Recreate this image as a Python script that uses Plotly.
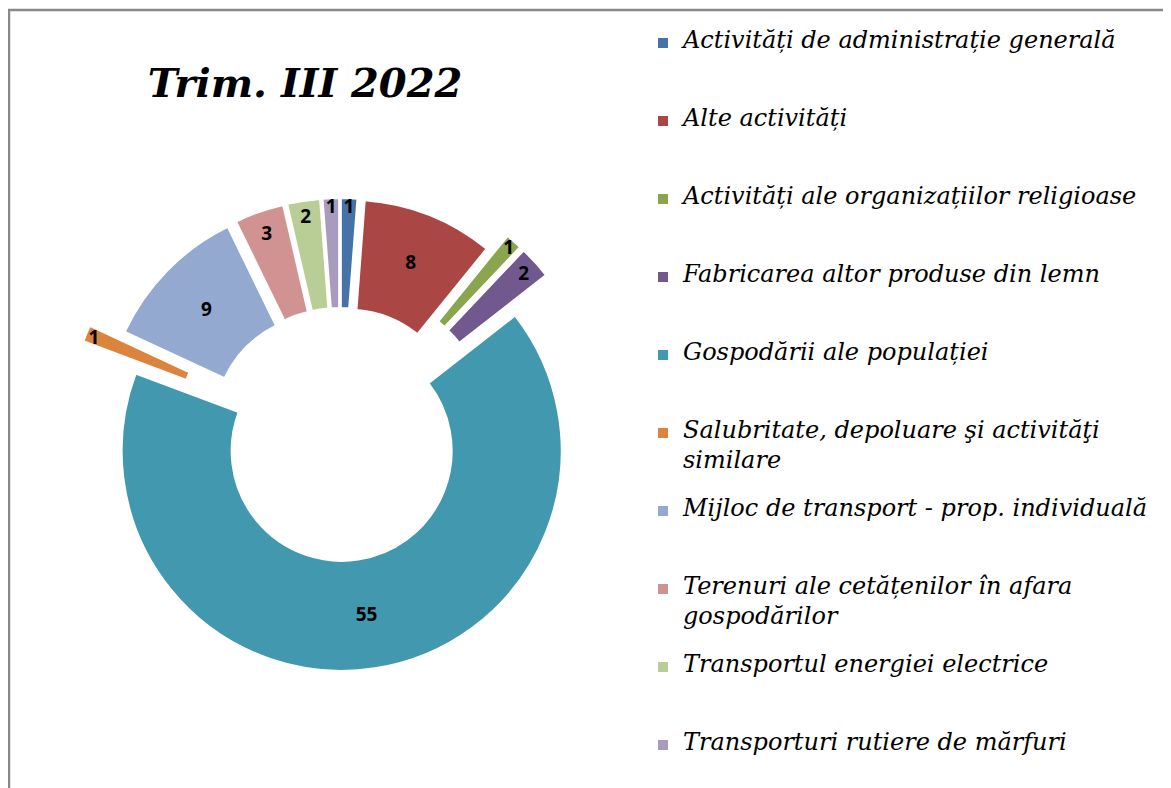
import plotly.graph_objects as go

# data
categories = [
    "Activități de administrație generală",
    "Alte activități",
    "Activități ale organizațiilor religioase",
    "Fabricarea altor produse din lemn",
    "Gospodării ale populației",
    "Salubritate, depoluare şi activităţi<br>similare",
    "Mijloc de transport - prop. individuală",
    "Terenuri ale cetățenilor în afara<br>gospodărilor",
    "Transportul energiei electrice",
    "Transporturi rutiere de mărfuri",
]
values = [1, 8, 1, 2, 55, 1, 9, 3, 2, 1]
colors = [
    "#4572A7", "#AA4643", "#89A54E", "#71588F", "#4198AF",
    "#DB843D", "#93A9CF", "#D19392", "#B9CD96", "#A99BBD",
]
pulls = [0.1, 0.1, 0.2, 0.2, 0.05, 0.25, 0.1, 0.1, 0.1, 0.1]

W, H = 1171, 788

# pie geometry (figure pixels): centre and radius of the ring
cx, cy, r = 332, 432, 220
half = r * (1 + max(pulls))

# legend rows: a small base font gives a fine line grid; every entry takes
# five grid lines, wrapped text skips one grid line between its two lines
legend_labels = []
for i, c in enumerate(categories):
    parts = ['<span style="font-size:24px">%s</span>' % p for p in c.split("<br>")]
    rows = "<br> <br>".join(parts)
    used = 2 * len(parts) - 1
    if i < len(categories) - 1:
        rows += "<br> " * (5 - used)
    legend_labels.append(rows)

fig = go.Figure()
fig.add_trace(go.Pie(
    labels=legend_labels,
    values=values,
    hole=0.5,
    pull=pulls,
    sort=False,
    direction="clockwise",
    rotation=0,
    marker=dict(colors=colors, line=dict(color="white", width=2)),
    textinfo="value",
    textposition="inside",
    insidetextorientation="horizontal",
    textfont=dict(family="Open Sans", size=19, color="black", weight="bold"),
    domain=dict(x=[(cx - half) / W, (cx + half) / W],
                y=[1 - (cy + half) / H, 1 - (cy - half) / H]),
    hovertemplate="%{value}<extra></extra>",
))

fig.update_layout(
    width=W,
    height=H,
    margin=dict(l=0, r=0, t=0, b=0),
    paper_bgcolor="white",
    uniformtext=dict(minsize=19, mode="show"),
    title=dict(
        text="<b><i>Trim. III 2022</i></b>",
        x=297 / W, xanchor="center",
        y=1 - 75 / H, yanchor="middle",
        font=dict(family="DejaVu Serif", size=40, color="black"),
    ),
    legend=dict(
        x=635 / W, xanchor="left",
        y=1 - 21 / H, yanchor="top",
        valign="top",
        font=dict(family="DejaVu Serif", size=11.54, color="black", style="italic"),
        bgcolor="rgba(0,0,0,0)",
    ),
    shapes=[dict(
        type="rect", xref="paper", yref="paper",
        x0=1 / W, x1=1.02, y0=-0.02, y1=1 - 2 / H,
        line=dict(color="#898989", width=2.5),
    )],
)

fig.write_html("out.html")
